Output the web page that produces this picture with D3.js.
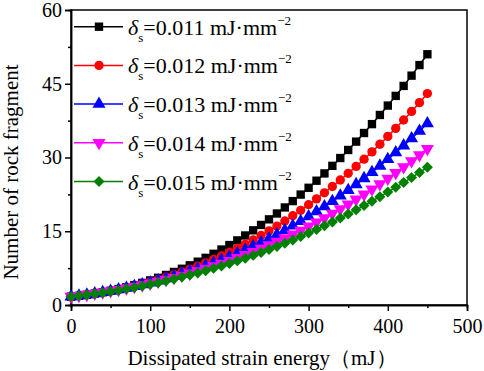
<!DOCTYPE html>
<html>
<head>
<meta charset="utf-8">
<script src="https://cdn.jsdelivr.net/npm/d3@7"></script>
<style>
  body { margin: 0; background: #fff; }
  svg text { font-family: "Liberation Serif", "Times New Roman", serif; fill: #000; }
</style>
</head>
<body>
<svg width="484" height="371"></svg>
<script>
// dissipated strain energy (mJ), one marker every 10 mJ
const energy = [0,10,20,30,40,50,60,70,80,90,100,110,120,130,140,150,160,170,180,190,
  200,210,220,230,240,250,260,270,280,290,300,310,320,330,340,350,360,370,380,390,
  400,410,420,430,440,450];

// number of rock fragment
const frag011 = [1.70,1.87,2.08,2.32,2.59,2.90,3.25,3.63,4.05,4.50,5.00,5.53,6.11,6.72,7.37,8.07,
  8.81,9.59,10.41,11.28,12.19,13.14,14.14,15.19,16.28,17.42,18.61,19.84,21.13,22.46,23.84,
  25.28,26.76,28.30,29.89,31.53,33.23,34.98,36.79,38.65,40.56,42.53,44.56,46.65,48.80,51.00];
const frag012 = [1.70,1.88,2.09,2.32,2.57,2.86,3.17,3.51,3.88,4.27,4.70,5.16,5.65,6.17,6.72,7.30,
  7.92,8.57,9.26,9.98,10.74,11.53,12.36,13.23,14.14,15.08,16.06,17.09,18.15,19.26,20.40,
  21.59,22.82,24.10,25.42,26.78,28.19,29.65,31.15,32.70,34.29,35.93,37.63,39.37,41.16,43.00];
const frag013 = [1.70,1.89,2.10,2.33,2.58,2.86,3.15,3.47,3.80,4.17,4.55,4.96,5.39,5.85,6.34,6.85,
  7.38,7.95,8.54,9.16,9.81,10.49,11.20,11.93,12.70,13.50,14.34,15.20,16.10,17.03,18.00,
  19.00,20.03,21.10,22.21,23.35,24.53,25.75,27.00,28.30,29.63,31.00,32.42,33.87,35.37,36.90];
const frag014 = [1.70,1.90,2.11,2.33,2.58,2.84,3.11,3.41,3.72,4.05,4.40,4.77,5.16,5.56,5.99,6.44,
  6.91,7.40,7.92,8.46,9.02,9.60,10.21,10.84,11.50,12.18,12.89,13.62,14.38,15.17,15.99,
  16.83,17.70,18.60,19.53,20.49,21.48,22.50,23.55,24.63,25.74,26.89,28.07,29.28,30.52,31.80];
const frag015 = [1.70,1.88,2.07,2.28,2.50,2.74,3.00,3.28,3.57,3.87,4.20,4.54,4.90,5.28,5.68,6.09,
  6.52,6.98,7.45,7.94,8.45,8.97,9.52,10.09,10.68,11.28,11.91,12.56,13.23,13.92,14.63,
  15.37,16.12,16.90,17.70,18.52,19.36,20.23,21.12,22.03,22.97,23.93,24.91,25.91,26.95,28.00];

const deltaLabels = ["0.011", "0.012", "0.013", "0.014", "0.015"];
const xTicks = [0, 100, 200, 300, 400, 500];
const yTicks = [0, 15, 30, 45, 60];
const xMinor = [50, 150, 250, 350, 450];
const yMinor = [7.5, 22.5, 37.5, 52.5];

const w = 484, h = 371;
const margin = { top: 10, right: 17, bottom: 66, left: 71 };

const svg = d3.select("svg");

const x = d3.scaleLinear().domain([0, 500]).range([margin.left, w - margin.right]);
const y = d3.scaleLinear().domain([0, 60]).range([h - margin.bottom, margin.top]);

const series = [
  { data: frag011, color: "#000000", symbol: d3.symbolSquare, size: 70, rot: 0 },
  { data: frag012, color: "#ff0000", symbol: d3.symbolCircle, size: 68, rot: 0 },
  { data: frag013, color: "#0000ff", symbol: d3.symbolTriangle, size: 74, rot: 0 },
  { data: frag014, color: "#ff00ff", symbol: d3.symbolTriangle, size: 74, rot: 180 },
  { data: frag015, color: "#008000", symbol: d3.symbolSquare, size: 60, rot: 45 }
];

// box
svg.append("rect")
  .attr("x", x(0)).attr("y", y(60))
  .attr("width", x(500) - x(0)).attr("height", y(0) - y(60))
  .attr("fill", "none").attr("stroke", "#000").attr("stroke-width", 1.5);

// axes
svg.append("g")
  .attr("transform", `translate(0,${y(0)})`)
  .call(d3.axisBottom(x).tickValues(xTicks).tickSize(6).tickPadding(8));
svg.append("g")
  .attr("transform", `translate(0,${y(0)})`)
  .call(d3.axisBottom(x).tickValues(xMinor).tickSize(3).tickFormat(""));

svg.append("g")
  .attr("transform", `translate(${x(0)},0)`)
  .call(d3.axisLeft(y).tickValues(yTicks).tickSize(6).tickPadding(3));
svg.append("g")
  .attr("transform", `translate(${x(0)},0)`)
  .call(d3.axisLeft(y).tickValues(yMinor).tickSize(3).tickFormat(""));

svg.selectAll(".domain").attr("stroke", "#000").attr("stroke-width", 1.5);
svg.selectAll(".tick line").attr("stroke", "#000").attr("stroke-width", 1.5);
svg.selectAll(".tick text")
  .style("font-family", '"Liberation Serif", serif')
  .style("font-size", "20px");

// axis titles
svg.append("text")
  .attr("x", 262).attr("y", 365)
  .attr("text-anchor", "middle")
  .style("font-size", "21px")
  .text("Dissipated strain energy（mJ）");

svg.append("text")
  .attr("transform", "translate(18,172) rotate(-90)")
  .attr("text-anchor", "middle")
  .style("font-size", "21px")
  .text("Number of rock fragment");

// lines + markers
const line = d3.line().x((d, i) => x(energy[i])).y(d => y(d));

series.forEach(s => {
  const g = svg.append("g");
  g.append("path")
    .datum(s.data)
    .attr("d", line)
    .attr("fill", "none")
    .attr("stroke", s.color)
    .attr("stroke-width", 1.5);
  g.selectAll("path.pt")
    .data(s.data)
    .enter()
    .append("path")
    .attr("class", "pt")
    .attr("d", d3.symbol().type(s.symbol).size(s.size))
    .attr("transform", (d, i) => `translate(${x(energy[i])},${y(d)}) rotate(${s.rot})`)
    .attr("fill", s.color);
});

// legend
const leg = svg.append("g");
series.forEach((s, i) => {
  const cy = 26.7 + i * 38.7;
  leg.append("line")
    .attr("x1", 74).attr("x2", 123).attr("y1", cy).attr("y2", cy)
    .attr("stroke", s.color).attr("stroke-width", 1.5);
  leg.append("path")
    .attr("d", d3.symbol().type(s.symbol).size(s.size))
    .attr("transform", `translate(99,${cy}) rotate(${s.rot})`)
    .attr("fill", s.color);

  const t = leg.append("text")
    .attr("x", 128).attr("y", cy + 8)
    .style("font-size", "22px");
  t.append("tspan").style("font-style", "italic").text("δ");
  t.append("tspan").attr("dy", 7).style("font-size", "13px").text("s");
  t.append("tspan").attr("dy", -7).text("=" + deltaLabels[i] + " mJ·mm");
  t.append("tspan").attr("dy", -10).style("font-size", "13px").text("−2");
});
</script>
</body>
</html>
